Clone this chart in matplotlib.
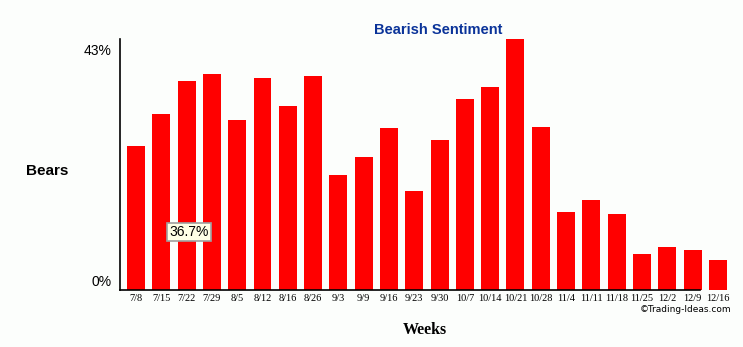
import matplotlib.pyplot as plt
import matplotlib.transforms as mtransforms
import numpy as np

# weekly bearish readings (%)
weeks = ["7/8", "7/15", "7/22", "7/29", "8/5", "8/12", "8/16", "8/26", "9/3", "9/9",
         "9/16", "9/23", "9/30", "10/7", "10/14", "10/21", "10/28", "11/4", "11/11",
         "11/18", "11/25", "12/2", "12/9", "12/16"]
bears = [25.3, 30.9, 36.7, 37.9, 29.9, 37.2, 32.3, 37.6, 20.2, 23.4,
         28.4, 17.4, 26.3, 33.5, 35.6, 44.1, 28.6, 13.7, 15.8,
         13.3, 6.3, 7.6, 7.0, 5.3]
y_labels = ["0%", "43%"]
y_label_vals = [0, 43]

bg = "#fcfefc"
fig = plt.figure(figsize=(7.43, 3.47), dpi=100, facecolor=bg)
ax = fig.add_axes([120 / 743, 57 / 347, 610 / 743, 251 / 347])
ax.set_facecolor(bg)

x = np.arange(len(weeks))
ax.bar(x, bears, width=0.71, color="#ff0000", zorder=2)

ax.set_xlim(-0.632, 23.48)
ax.set_ylim(0, 44.1)

for s in ["top", "right"]:
    ax.spines[s].set_visible(False)
ax.spines["left"].set_linewidth(1.2)
ax.spines["bottom"].set_linewidth(1.2)
ax.spines["bottom"].set_bounds(-0.632, 22.29)

ax.set_xticks(x)
ax.set_xticklabels(weeks, family="Liberation Serif", fontsize=7.5)
ax.tick_params(axis="x", length=0, pad=3)

ax.set_yticks(y_label_vals)
ax.set_yticklabels(y_labels, family="Liberation Sans", fontsize=10, color="black")
ax.tick_params(axis="y", length=0, pad=6)
ylbls = ax.get_yticklabels()
ylbls[0].set_transform(ylbls[0].get_transform() + mtransforms.ScaledTranslation(0, 10 / 100, fig.dpi_scale_trans))
ylbls[1].set_transform(ylbls[1].get_transform() + mtransforms.ScaledTranslation(0, -4 / 100, fig.dpi_scale_trans))

fig.text(438 / 743, 1 - 30 / 347, "Bearish Sentiment", ha="center", va="center",
         fontsize=10.5, fontweight="bold", color="#0a3399", family="Liberation Sans")
fig.text(26 / 743, 1 - 171 / 347, "Bears", ha="left", va="center",
         fontsize=11, fontweight="bold", family="Liberation Sans")
fig.text(425 / 743, 1 - 330 / 347, "Weeks", ha="center", va="center",
         fontsize=11.5, fontweight="bold", family="Liberation Serif")
fig.text(731 / 743, 1 - 310 / 347, "\u00a9Trading-Ideas.com", ha="right", va="center",
         fontsize=6.5, family="DejaVu Sans")

# hover tooltip
ax.text(2.1, 10.2, "36.7%", ha="center", va="center", fontsize=10,
        family="Liberation Sans", color="black", zorder=5,
        bbox=dict(boxstyle="square,pad=0.15", fc="#ffffe6", ec="#a0a0a0", lw=1.2))

fig.savefig("out.png", dpi=100, facecolor=bg)
